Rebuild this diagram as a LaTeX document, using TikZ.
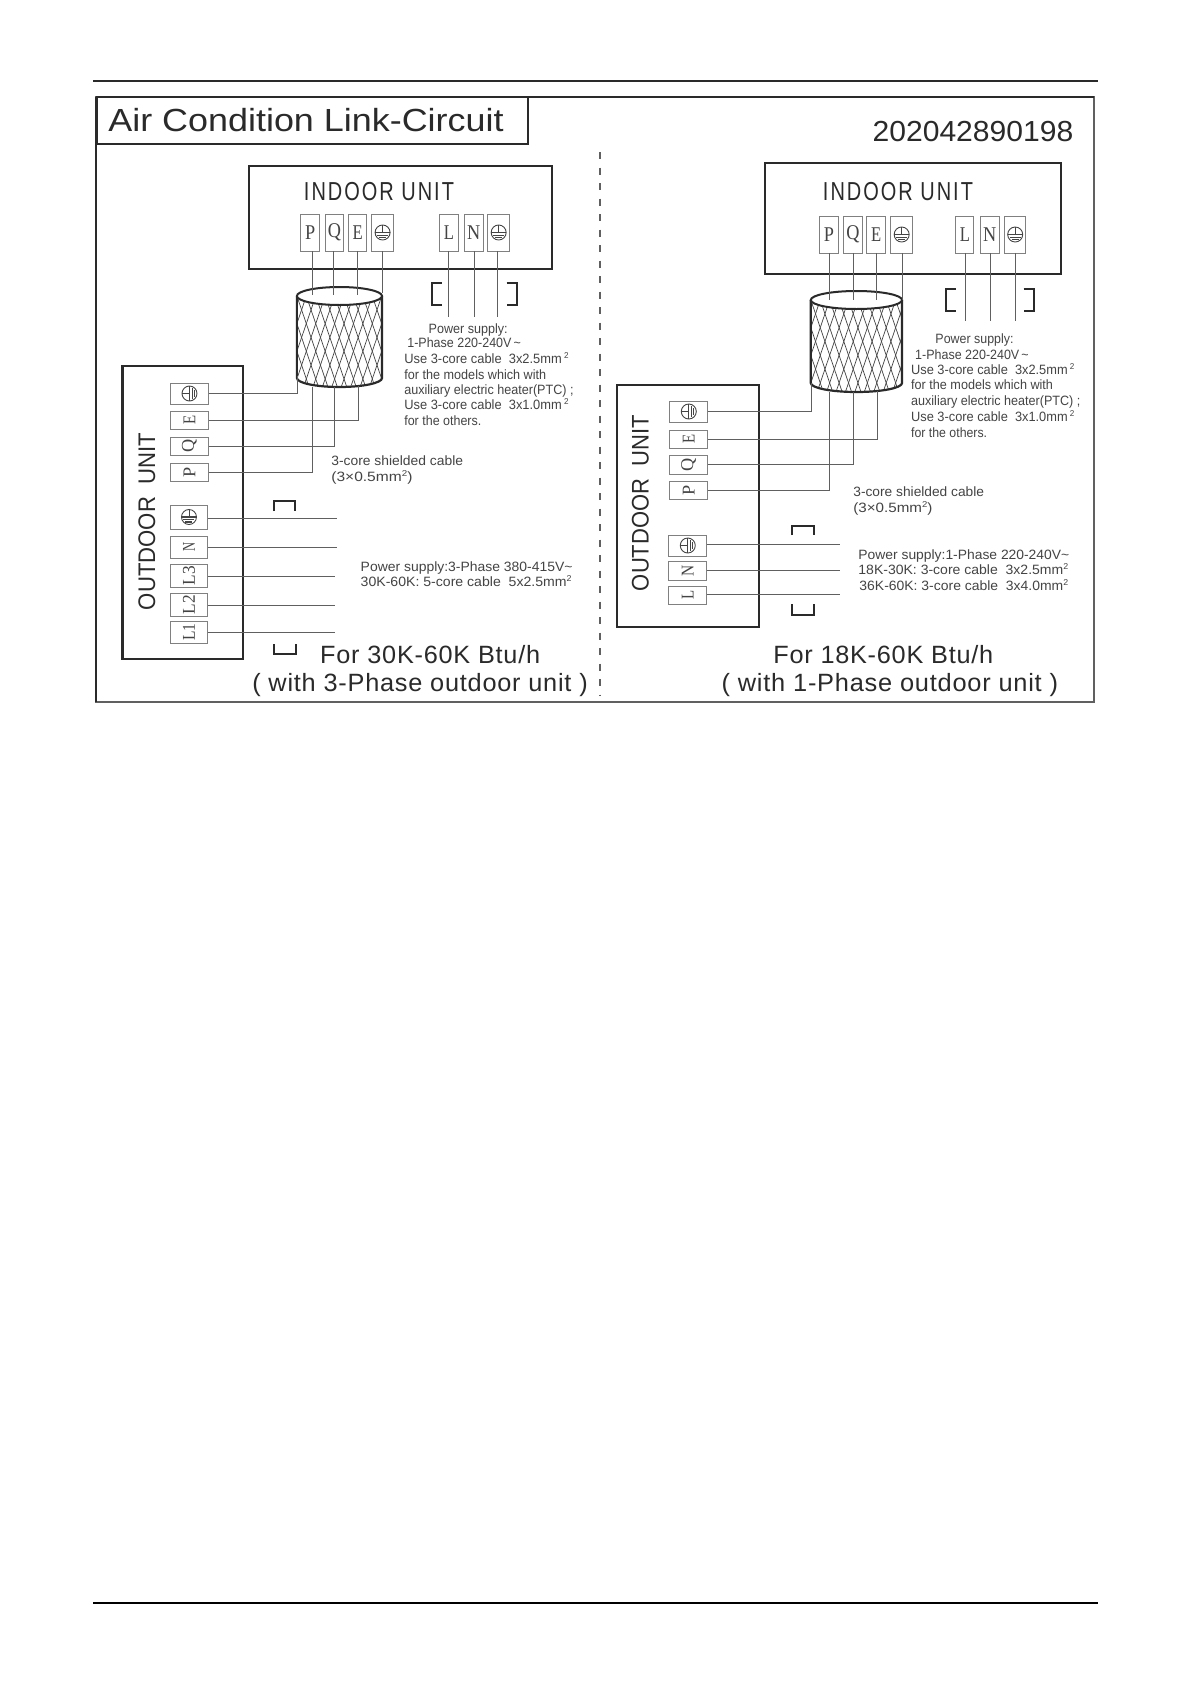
\documentclass[tikz,border=0pt]{standalone}
\usepackage{fontspec}
\usepackage{graphicx}
\setmainfont{Liberation Sans}
\newfontfamily\spacedfont[LetterSpace=10]{Liberation Sans}
\newfontfamily\lightspaced[LetterSpace=3]{Liberation Sans}
\newfontfamily\termfont{Liberation Serif}
\definecolor{ink}{HTML}{2A2A2A}
\definecolor{txt}{HTML}{444444}
\definecolor{wirec}{HTML}{606060}
\definecolor{termc}{HTML}{808080}
\newsavebox\fitbox
% width, size, text (widths are given in zoom units, stretched by 1.0135)
\newcommand\fitw[3]{\sbox\fitbox{\fontsize{#2}{#2}\selectfont #3}\pgfmathsetmacro\fitr{1.0135*#1/\wd\fitbox}\scalebox{\fitr}[1]{\usebox\fitbox}}
\newcommand\supii{\raisebox{4.5pt}{\fontsize{8.5}{8.5}\selectfont 2}}
\tikzset{
  x=1pt,y=-1pt,
  leftpart/.style={shift={(80,0)},xscale=1.0135,shift={(-80,0)}},
  rightpart/.style={shift={(600,0)},xscale=1.0135,shift={(-600,0)}},
  txtnode/.style={inner sep=0pt,outer sep=0pt,anchor=base west,text=txt},
  bignode/.style={inner sep=0pt,outer sep=0pt,anchor=base west,text=ink},
  unitbox/.style={draw=ink,line width=2.2pt,fill=white},
  termbox/.style={draw=termc,line width=1pt,inner sep=0pt,outer sep=0pt,fill=white,text=txt},
  wire/.style={draw=wirec,line width=1pt},
  brk/.style={draw=ink,line width=2pt},
  earth/.pic={
    \draw[txt,line width=.9pt] (0,0) circle[radius=7.5pt];
    \draw[txt,line width=.9pt] (0,-7.5)--(0,0);
    \draw[txt,line width=1.1pt] (-7.5,0)--(7.5,0);
    \draw[txt,line width=1.1pt] (-5.5,2.6)--(5.5,2.6);
    \draw[txt,line width=1.1pt] (-3.5,5)--(3.5,5);
  }
}
\newcommand\term[6]{\pgfmathsetmacro\tcx{(#2+#4)/2}\pgfmathsetmacro\tcy{(#3+#5)/2}\pgfmathsetmacro\twd{1.0135*(#4-#2)}\pgfmathsetmacro\tht{#5-#3}\node[termbox,minimum width=\twd pt,minimum height=\tht pt] (#1) at (\tcx,\tcy) {#6};}
% upright label
\newcommand\lab[2][10]{\termfont\fitw{#1}{21}{#2}}
% rotated label
\newcommand\rlab[2][9]{\rotatebox{90}{\termfont\fitw{#1}{18}{#2}}}
% x1,x2,ytop,yside
\newcommand\cyl[4]{%
  \pgfmathsetmacro\crx{(#2-#1)/2}\pgfmathsetmacro\ccx{(#1+#2)/2}%
  \begin{scope}
    \path[clip] (#1,#3) -- (#1,#4) arc[start angle=180,end angle=360,x radius=\crx pt,y radius=9pt] -- (#2,#3) -- cycle;
    \fill[white] (#1,#3) rectangle (#2,#4+10);
    \foreach \i in {-14,...,16}{
      \draw[txt,line width=.7pt] (#1+\i*9.3,#3) -- ++(35,104);
      \draw[txt,line width=.7pt] (#1+\i*9.3,#3) -- ++(-35,104);
    }
  \end{scope}
  \draw[ink,line width=2.2pt] (#1,#3) -- (#1,#4) arc[start angle=180,end angle=360,x radius=\crx pt,y radius=9pt] -- (#2,#3);
  \draw[ink,line width=2pt,fill=white] (\ccx,#3) ellipse[x radius=\crx pt,y radius=9pt];
}
\begin{document}
\begin{tikzpicture}
\useasboundingbox (0,0) rectangle (1190,1684);
\fill[white] (0,0) rectangle (1190,1684);
% page rules
\draw[ink,line width=1.1pt] (93,81) -- (1098,81);
\draw[black,line width=1.2pt] (93,1603) -- (1098,1603);
% outer frame
\draw[wirec,line width=1.1pt] (96,97) rectangle (1094,702);
\draw[ink,line width=2.8pt] (96,97) -- (1094,97);
\draw[ink,line width=2.2pt] (96,97) -- (96,702);
% divider
\draw[wirec,line width=1.1pt,dash pattern=on 7pt off 8.5pt] (600,152) -- (600,695);

%%%%%%%% LEFT
\begin{scope}[leftpart]
\draw[ink,line width=2.2pt,fill=white] (97,97) rectangle (522,144);
\node[bignode] (title) at (108,131) {\fitw{390}{32}{Air Condition Link-Circuit}};
\draw[unitbox] (247,166) rectangle (546,269);
\node[bignode] (ainT) at (301,200) {\spacedfont\fitw{148}{26}{INDOOR UNIT}};
\term{aP}{298}{214}{316}{251}{\lab{P}}
\term{aQ}{322}{214}{340}{251}{\lab[13]{Q}}
\term{aE}{345}{214}{363}{251}{\lab{E}}
\term{aG}{368}{214}{389}{251}{}
\term{aL}{435}{214}{453}{251}{\lab{L}}
\term{aN}{459}{214}{478}{251}{\lab[13]{N}}
\term{aH}{482}{214}{504}{251}{}
\pic at (aG) {earth};
\pic at (aH) {earth};
\cyl{294}{378}{296}{378}
\coordinate (acP) at (309,295);
\coordinate (acQ) at (330,295);
\coordinate (acE) at (354,295);
\coordinate (acG) at (378,293);
\coordinate (apL) at (444,317);
\coordinate (apN) at (469,317);
\coordinate (apG) at (492,317);
\draw[wire] (aP.south -| acP) -- (acP);
\draw[wire] (aQ.south -| acQ) -- (acQ);
\draw[wire] (aE.south -| acE) -- (acE);
\draw[wire] (aG.south -| acG) -- (acG);
\draw[wire] (aL.south -| apL) -- (apL);
\draw[wire] (aN.south -| apN) -- (apN);
\draw[wire] (aH.south -| apG) -- (apG);
\draw[brk] (437,283) -- (427,283) -- (427,305) -- (437,305);
\draw[brk] (501,283) -- (511,283) -- (511,305) -- (501,305);
\node[txtnode] (at1) at (424,333) {\fitw{78}{13.5}{Power supply:}};
\node[txtnode] (at2) at (403,347) {\fitw{112}{13.5}{1-Phase 220-240V\,\textasciitilde}};
\node[txtnode] (at3) at (400,363) {\fitw{162}{13.5}{Use 3-core cable\ \ 3x2.5mm\,\supii}};
\node[txtnode] (at4) at (400,379) {\fitw{140}{13.5}{for the models which with}};
\node[txtnode] (at5) at (400,394) {\fitw{167}{13.5}{auxiliary electric heater(PTC) ;}};
\node[txtnode] (at6) at (400,409) {\fitw{162}{13.5}{Use 3-core cable\ \ 3x1.0mm\,\supii}};
\node[txtnode] (at7) at (400,425) {\fitw{76}{13.5}{for the others.}};
% left outdoor
\draw[unitbox] (122,366) rectangle (241,659);
\node[bignode,rotate=90] (aoT) at (154,610) {\sbox\fitbox{\fontsize{24}{24}\selectfont OUTDOOR\ \ UNIT}\pgfmathsetmacro\fitr{177/\wd\fitbox}\scalebox{\fitr}[1]{\usebox\fitbox}};
\term{oG}{169}{383}{207}{404}{}
\term{oE}{169}{411}{207}{429}{\rlab{E}}
\term{oQ}{169}{437}{207}{455}{\rlab[13]{Q}}
\term{oP}{169}{463}{207}{481}{\rlab[10]{P}}
\term{oH}{169}{505}{206}{529}{}
\term{oN}{169}{536}{206}{558}{\rlab{N}}
\term{oL3}{169}{564}{206}{587}{\rlab[19]{L3}}
\term{oL2}{169}{593}{206}{616}{\rlab[19]{L2}}
\term{oL1}{169}{621}{206}{643}{\rlab[17]{L1}}
\pic[rotate=90] at (oG) {earth};
\pic at (oH) {earth};
\coordinate (aoG) at (295,376);
\coordinate (aoE) at (355,386);
\coordinate (aoQ) at (331,387);
\coordinate (aoP) at (309,387);
\draw[wire] (oG.east) -- (oG.east -| aoG) -- (aoG);
\draw[wire] (oE.east) -- (oE.east -| aoE) -- (aoE);
\draw[wire] (oQ.east) -- (oQ.east -| aoQ) -- (aoQ);
\draw[wire] (oP.east) -- (oP.east -| aoP) -- (aoP);
\coordinate (aeH) at (334,518);
\coordinate (aeN) at (334,547);
\coordinate (aeC) at (332,576);
\coordinate (aeB) at (332,605);
\coordinate (aeA) at (332,632);
\draw[wire] (oH.east |- aeH) -- (aeH);
\draw[wire] (oN.east |- aeN) -- (aeN);
\draw[wire] (oL3.east |- aeC) -- (aeC);
\draw[wire] (oL2.east |- aeB) -- (aeB);
\draw[wire] (oL1.east |- aeA) -- (aeA);
\draw[brk] (271,511) -- (271,501) -- (292,501) -- (292,511);
\draw[brk] (271,644) -- (271,654) -- (293,654) -- (293,644);
\node[txtnode] (as1) at (328,465) {\fitw{130}{13.5}{3-core shielded cable}};
\node[txtnode] (as2) at (328,481) {\fitw{80}{13.5}{(3×0.5mm\supii)}};
\node[txtnode] (ap1) at (357,571) {\fitw{209}{13.5}{Power supply:3-Phase 380-415V\textasciitilde}};
\node[txtnode] (ap2) at (357,586) {\fitw{208}{13.5}{30K-60K: 5-core cable\ \ 5x2.5mm\supii}};
\node[bignode] (af1) at (317,663) {\lightspaced\fitw{217}{25}{For 30K-60K Btu/h}};
\node[bignode] (af2) at (250,691) {\lightspaced\fitw{331}{25}{( with 3-Phase outdoor unit )}};
\end{scope}

%%%%%%%% RIGHT
\begin{scope}[rightpart]
\node[bignode] (code) at (869,141) {\fitw{198}{29}{202042890198}};
\draw[unitbox] (763,163) rectangle (1055,274);
\node[bignode] (binT) at (820,200) {\spacedfont\fitw{148}{26}{INDOOR UNIT}};
\term{bP}{817}{216}{835}{253}{\lab{P}}
\term{bQ}{840}{216}{859}{253}{\lab[13]{Q}}
\term{bE}{863}{216}{882}{253}{\lab{E}}
\term{bG}{887}{216}{908}{253}{}
\term{bL}{951}{216}{969}{253}{\lab{L}}
\term{bN}{975}{216}{994}{253}{\lab[13]{N}}
\term{bH}{999}{216}{1020}{253}{}
\pic at (bG) {earth};
\pic at (bH) {earth};
\cyl{808}{898}{300}{383}
\coordinate (bcP) at (826,300);
\coordinate (bcQ) at (850,300);
\coordinate (bcE) at (873,300);
\coordinate (bcG) at (898,300);
\coordinate (bpL) at (960,321);
\coordinate (bpN) at (985,321);
\coordinate (bpG) at (1010,321);
\draw[wire] (bP.south -| bcP) -- (bcP);
\draw[wire] (bQ.south -| bcQ) -- (bcQ);
\draw[wire] (bE.south -| bcE) -- (bcE);
\draw[wire] (bG.south -| bcG) -- (bcG);
\draw[wire] (bL.south -| bpL) -- (bpL);
\draw[wire] (bN.south -| bpN) -- (bpN);
\draw[wire] (bH.south -| bpG) -- (bpG);
\draw[brk] (951,289) -- (941,289) -- (941,311) -- (951,311);
\draw[brk] (1018,289) -- (1028,289) -- (1028,311) -- (1018,311);
\node[txtnode] (bt1) at (931,343) {\fitw{77}{13.5}{Power supply:}};
\node[txtnode] (bt2) at (911,359) {\fitw{112}{13.5}{1-Phase 220-240V\,\textasciitilde}};
\node[txtnode] (bt3) at (907,374) {\fitw{161}{13.5}{Use 3-core cable\ \ 3x2.5mm\,\supii}};
\node[txtnode] (bt4) at (907,389) {\fitw{140}{13.5}{for the models which with}};
\node[txtnode] (bt5) at (907,405) {\fitw{167}{13.5}{auxiliary electric heater(PTC) ;}};
\node[txtnode] (bt6) at (907,421) {\fitw{161}{13.5}{Use 3-core cable\ \ 3x1.0mm\,\supii}};
\node[txtnode] (bt7) at (907,437) {\fitw{75}{13.5}{for the others.}};
% right outdoor
\draw[unitbox] (617,385) rectangle (757,627);
\node[bignode,rotate=90] (boT) at (648,591) {\sbox\fitbox{\fontsize{24}{24}\selectfont OUTDOOR\ \ UNIT}\pgfmathsetmacro\fitr{176/\wd\fitbox}\scalebox{\fitr}[1]{\usebox\fitbox}};
\term{pG}{669}{401}{706}{422}{}
\term{pE}{669}{430}{706}{448}{\rlab{E}}
\term{pQ}{669}{455}{706}{474}{\rlab[13]{Q}}
\term{pP}{669}{481}{706}{499}{\rlab[10]{P}}
\term{pH}{668}{535}{705}{556}{}
\term{pN}{668}{561}{705}{580}{\rlab[11]{N}}
\term{pL}{668}{586}{705}{604}{\rlab[9]{L}}
\pic[rotate=90] at (pG) {earth};
\pic[rotate=90] at (pH) {earth};
\coordinate (boG) at (809,383);
\coordinate (boE) at (874,391);
\coordinate (boQ) at (850,392);
\coordinate (boP) at (826,392);
\draw[wire] (pG.east) -- (pG.east -| boG) -- (boG);
\draw[wire] (pE.east) -- (pE.east -| boE) -- (boE);
\draw[wire] (pQ.east) -- (pQ.east -| boQ) -- (boQ);
\draw[wire] (pP.east) -- (pP.east -| boP) -- (boP);
\coordinate (beH) at (837,544);
\coordinate (beN) at (837,570);
\coordinate (beL) at (837,594);
\draw[wire] (pH.east |- beH) -- (beH);
\draw[wire] (pN.east |- beN) -- (beN);
\draw[wire] (pL.east |- beL) -- (beL);
\draw[brk] (789,535) -- (789,526) -- (811,526) -- (811,535);
\draw[brk] (789,604) -- (789,615) -- (811,615) -- (811,604);
\node[txtnode] (bs1) at (850,496) {\fitw{129}{13.5}{3-core shielded cable}};
\node[txtnode] (bs2) at (850,512) {\fitw{78}{13.5}{(3×0.5mm\supii)}};
\node[txtnode] (bq1) at (855,559) {\fitw{208}{13.5}{Power supply:1-Phase 220-240V\textasciitilde}};
\node[txtnode] (bq2) at (855,574) {\fitw{207}{13.5}{18K-30K: 3-core cable\ \ 3x2.5mm\supii}};
\node[txtnode] (bq3) at (856,590) {\fitw{206}{13.5}{36K-60K: 3-core cable\ \ 3x4.0mm\supii}};
\node[bignode] (bf1) at (771,663) {\lightspaced\fitw{217}{25}{For 18K-60K Btu/h}};
\node[bignode] (bf2) at (720,691) {\lightspaced\fitw{332}{25}{( with 1-Phase outdoor unit )}};
\end{scope}
\end{tikzpicture}
\end{document}
